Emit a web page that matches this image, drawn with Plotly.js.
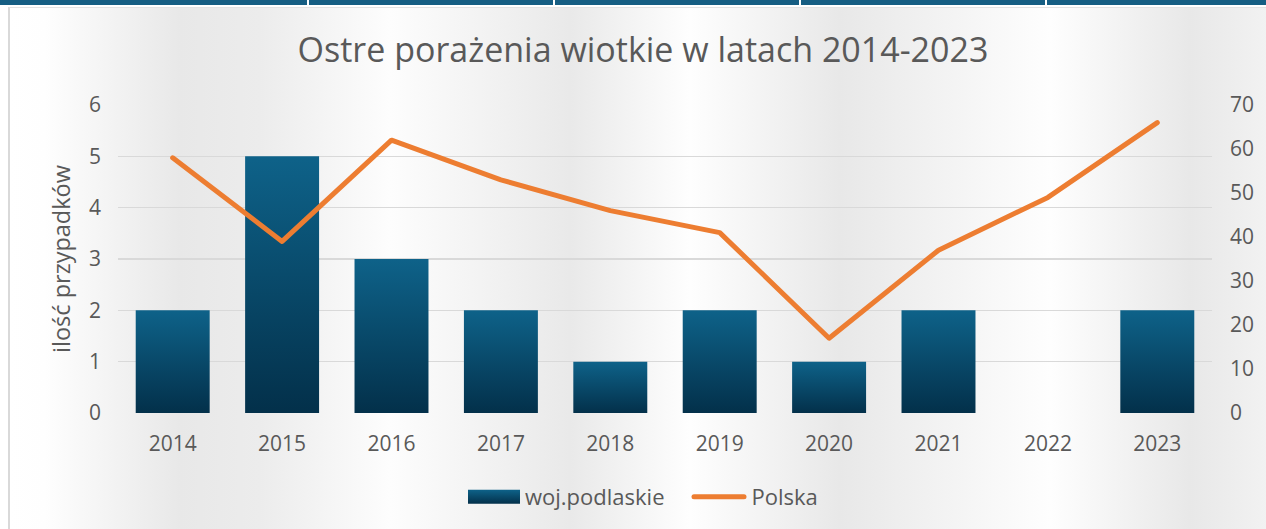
<!DOCTYPE html>
<html><head><meta charset="utf-8">
<script src="https://cdn.plot.ly/plotly-3.0.1.min.js"></script>
<style>
html,body{margin:0;padding:0;background:#fff;width:1266px;height:529px;overflow:hidden;position:relative;}
#strip{position:absolute;left:0;top:0;width:1266px;height:5px;background:#165e83;}
.dv{position:absolute;top:0;width:2px;height:5px;background:#fff;}
#bg{position:absolute;left:8px;top:7px;width:1258px;height:522px;box-sizing:border-box;border-left:2px solid #d9d9d9;border-top:1px solid #e3e3e3;
background:linear-gradient(to right,#ffffff 0px,#fefefe 35px,#e8e8e8 170px,#ececec 250px,#fdfdfd 380px,#e9e9e9 560px,#fefefe 680px,#e8e8e8 830px,#fefefe 1040px,#e8e8e8 1180px,#f2f2f2 1258px);}
#chart{position:absolute;left:0;top:0;width:1266px;height:529px;}
</style>
</head><body>
<div id="strip"></div>
<div class="dv" style="left:307px"></div><div class="dv" style="left:553px"></div><div class="dv" style="left:799px"></div><div class="dv" style="left:1045px"></div>
<div id="bg"></div>
<div id="chart"></div>
<script>
const years = ['2014','2015','2016','2017','2018','2019','2020','2021','2022','2023'];
const podlaskie = [2,5,3,2,1,2,1,2,0,2];
const polska = [58,39,62,53,46,41,17,37,49,66];
const chartTitle = 'Ostre porażenia wiotkie w latach 2014-2023';
const yTitle = 'ilość przypadków';
const seriesNames = ['woj.podlaskie','Polska'];

const FONT = '"Open Sans", "Noto Sans", sans-serif';
const GREY = '#595959';

const traces = [
  {type:'bar', x:years, y:podlaskie, name:seriesNames[0], marker:{color:'#0a4f72', line:{width:0}}, yaxis:'y'},
  {type:'scatter', mode:'lines', x:years, y:polska, name:seriesNames[1], line:{color:'#ED7D31', width:5}, yaxis:'y2'}
];
const layout = {
  width:1266, height:529,
  margin:{l:118, r:54, t:105, b:116},
  paper_bgcolor:'rgba(0,0,0,0)', plot_bgcolor:'rgba(0,0,0,0)',
  font:{family:FONT, color:GREY, size:21},
  title:{text:chartTitle, font:{family:FONT, size:34, color:GREY}, x:643/1266, xanchor:'center', xref:'container', y:1-50/529, yanchor:'middle', yref:'container'},
  bargap:0.324,
  showlegend:true,
  legend:{orientation:'h', x:647/1266, xanchor:'center', xref:'container', y:1-497/529, yanchor:'middle', yref:'container', font:{size:22, color:GREY, family:FONT}, itemwidth:52, bgcolor:'rgba(0,0,0,0)'},
  xaxis:{type:'category', showgrid:false, zeroline:false, showline:false, ticks:'', tickfont:{size:21, color:GREY}, ticklabelstandoff:16},
  yaxis:{range:[0,6], dtick:1, tick0:0, showgrid:true, gridcolor:'#d9d9d9', gridwidth:1.5, zeroline:false, showline:false, ticks:'', tickfont:{size:21, color:GREY}, ticklabelstandoff:16,
    title:{text:yTitle, font:{size:23.5, color:GREY}, standoff:11}},
  yaxis2:{range:[0,70], dtick:10, tick0:0, overlaying:'y', side:'right', showgrid:false, zeroline:false, showline:false, ticks:'', tickfont:{size:21, color:GREY}, ticklabelstandoff:17}
};
Plotly.newPlot('chart', traces, layout, {displayModeBar:false, staticPlot:true}).then(function(gd){
  const svg = gd.querySelector('svg.main-svg');
  const ns = 'http://www.w3.org/2000/svg';
  let defs = svg.querySelector('defs');
  const lg = document.createElementNS(ns,'linearGradient');
  lg.setAttribute('id','barGrad'); lg.setAttribute('x1','0'); lg.setAttribute('y1','0'); lg.setAttribute('x2','0'); lg.setAttribute('y2','1');
  [['0','#0e6289'],['1','#03304a']].forEach(function(s){
    const st = document.createElementNS(ns,'stop'); st.setAttribute('offset',s[0]); st.setAttribute('stop-color',s[1]); lg.appendChild(st);
  });
  defs.appendChild(lg);
  gd.querySelectorAll('.barlayer .point path').forEach(function(p){ p.style.fill='url(#barGrad)'; });
  gd.querySelectorAll('.scatterlayer .js-line').forEach(function(p){ p.style.strokeLinecap='round'; p.style.strokeLinejoin='round'; });
  gd.querySelectorAll('.legend [clip-path]').forEach(function(el){ el.removeAttribute('clip-path'); });
  const items = gd.querySelectorAll('.legend .traces');
  items.forEach(function(it, i){
    const t = it.querySelector('text.legendtext');
    const tx = parseFloat(t.getAttribute('x'));
    if(i===0){
      const p = it.querySelector('.legendpoints path');
      if(p){ p.removeAttribute('transform'); p.setAttribute('d','M'+(tx-57)+',-7h52v14h-52Z'); p.style.fill='url(#barGrad)'; }
    } else {
      const p = it.querySelector('.legendlines path');
      if(p){ p.setAttribute('d','M'+(tx-57.5)+',0h50'); p.style.strokeLinecap='round'; }
      const tr = it.getAttribute('transform') || '';
      const m = tr.match(/translate\(([-\d.]+),\s*([-\d.]+)\)/);
      if(m){ it.setAttribute('transform','translate('+(parseFloat(m[1])+20)+','+m[2]+')'); }
    }
  });
  const lgd = gd.querySelector('.legend');
  const tr0 = lgd.getAttribute('transform');
  const m0 = tr0 && tr0.match(/translate\(([-\d.]+),\s*([-\d.]+)\)/);
  if(m0){ lgd.setAttribute('transform','translate('+(parseFloat(m0[1])-14)+','+m0[2]+')'); }
});
</script>
</body></html>
